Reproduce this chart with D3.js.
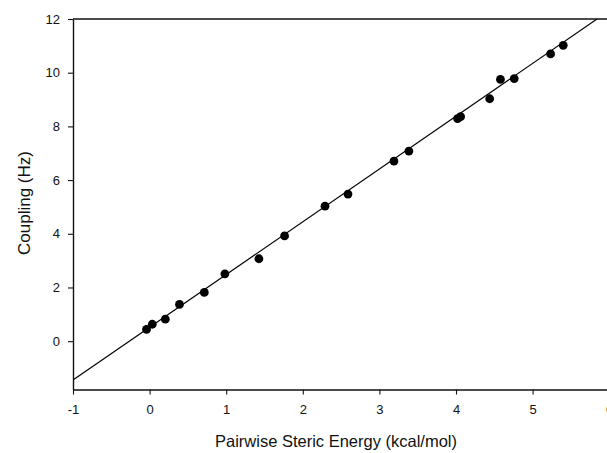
<!DOCTYPE html>
<html>
<head>
<meta charset="utf-8">
<script src="https://cdn.jsdelivr.net/npm/d3@7"></script>
<style>
  html, body { margin: 0; padding: 0; background: #fff; }
  svg { display: block; }
  text { font-family: "Liberation Sans", Arial, Helvetica, sans-serif; fill: #111; }
</style>
</head>
<body>
<svg id="chart" width="607" height="453"></svg>
<script>
// Data
const energy = [-0.04, 0.035, 0.205, 0.39, 0.714, 0.983, 1.427, 1.762, 2.29, 2.59, 3.19, 3.385, 4.02, 4.06, 4.44, 4.58, 4.76, 5.235, 5.40];
const coupling = [0.44, 0.63, 0.82, 1.37, 1.815, 2.51, 3.07, 3.92, 5.03, 5.48, 6.71, 7.08, 8.29, 8.36, 9.03, 9.75, 9.78, 10.70, 11.02];
const fitSlope = 1.966;
const fitIntercept = 0.516;
const xTicks = [-1, 0, 1, 2, 3, 4, 5, 6];
const yTicks = [0, 2, 4, 6, 8, 10, 12];
const xDomain = [-1, 6];
const yDomain = [-1.8, 12];
const xLabel = "Pairwise Steric Energy (kcal/mol)";
const yLabel = "Coupling (Hz)";

const svg = d3.select("#chart");
const mLeft = 73, mRight = 609.2, mTop = 19, mBottom = 389.5;

const x = d3.scaleLinear().domain(xDomain).range([mLeft, mRight]);
const y = d3.scaleLinear().domain(yDomain).range([mBottom, mTop]);

svg.append("defs").append("clipPath").attr("id", "plotclip")
  .append("rect").attr("x", mLeft).attr("y", mTop).attr("width", mRight - mLeft).attr("height", mBottom - mTop);

// Fit line
const lineX = [xDomain[0], xDomain[1]];
svg.append("line")
  .attr("clip-path", "url(#plotclip)")
  .attr("x1", x(lineX[0])).attr("y1", y(fitIntercept + fitSlope * lineX[0]))
  .attr("x2", x(lineX[1])).attr("y2", y(fitIntercept + fitSlope * lineX[1]))
  .attr("stroke", "#000").attr("stroke-width", 1.2);

// Points
svg.append("g").selectAll("circle")
  .data(energy.map((e, i) => [e, coupling[i]]))
  .join("circle")
  .attr("cx", d => x(d[0]))
  .attr("cy", d => y(d[1]))
  .attr("r", 4.4)
  .attr("fill", "#000");

// Top frame line
svg.append("line")
  .attr("x1", mLeft).attr("x2", 607).attr("y1", mTop).attr("y2", mTop)
  .attr("stroke", "#111").attr("stroke-width", 1.3);

const fmt = d => String(d); // plain hyphen minus, as in the reference

// Axes
const xAxis = d3.axisBottom(x).tickValues(xTicks).tickSize(5).tickSizeOuter(0).tickPadding(10)
  .tickFormat(fmt);
const gx = svg.append("g").attr("transform", `translate(0,${mBottom})`).call(xAxis);
gx.select(".domain").attr("stroke", "#111").attr("stroke-width", 1.4);
gx.selectAll(".tick line").attr("stroke", "#111").attr("stroke-width", 1.1);
gx.selectAll("text").attr("font-size", 13).style("fill", "#111");

const yAxis = d3.axisLeft(y).tickValues(yTicks).tickSize(5).tickSizeOuter(0).tickPadding(8)
  .tickFormat(fmt);
const gy = svg.append("g").attr("transform", `translate(${mLeft},0)`).call(yAxis);
gy.select(".domain").attr("stroke", "#111").attr("stroke-width", 1.4);
gy.selectAll(".tick line").attr("stroke", "#111").attr("stroke-width", 1.1);
gy.selectAll("text").attr("font-size", 13).style("fill", "#111");

// Axis titles
svg.append("text")
  .attr("x", 336).attr("y", 447)
  .attr("text-anchor", "middle")
  .attr("font-size", 16.5)
  .text(xLabel);

svg.append("text")
  .attr("transform", `translate(30,203) rotate(-90)`)
  .attr("text-anchor", "middle")
  .attr("font-size", 17)
  .text(yLabel);
</script>
</body>
</html>
